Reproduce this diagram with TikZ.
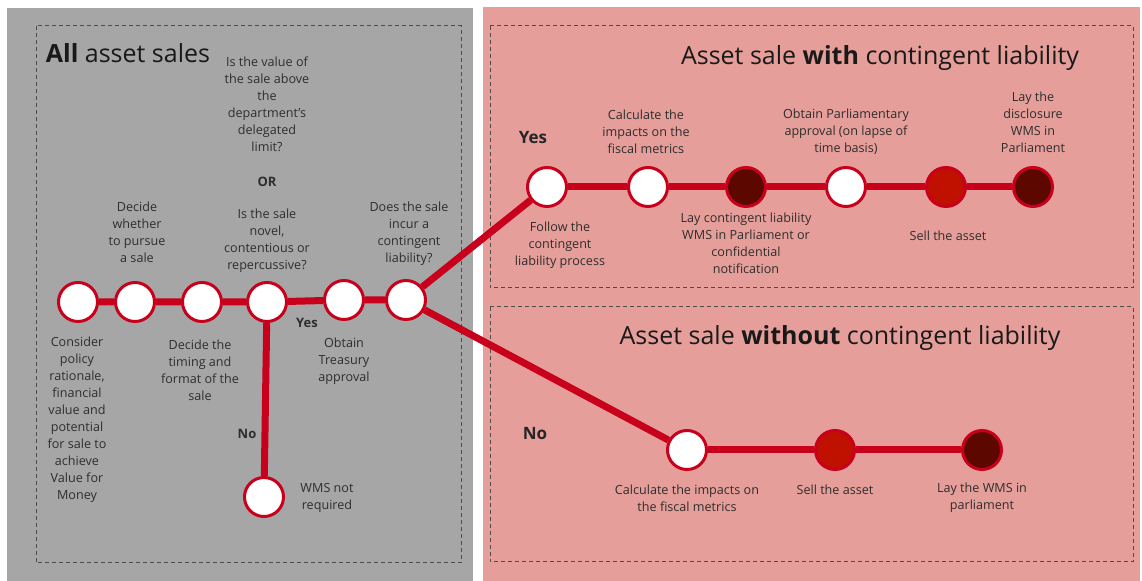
\documentclass[tikz,border=0pt]{standalone}
\usepackage{fontspec}
\setmainfont{Open Sans}
\usepackage{tikz}
\usetikzlibrary{positioning,calc}

\definecolor{panelgrey}{HTML}{A6A6A6}
\definecolor{panelpink}{HTML}{E59E99}
\definecolor{railred}{HTML}{C8001C}
\definecolor{midred}{HTML}{C01000}
\definecolor{darkred}{HTML}{5C0800}
\definecolor{txtgrey}{HTML}{2E2E2E}

\begin{document}
\begin{tikzpicture}
    [
        x=0.5pt, y=-0.5pt,
        stop/.style={circle, draw=railred, line width=1.5pt, fill=white, minimum size=19.5pt, inner sep=0},
        midstop/.style={stop, fill=midred},
        darkstop/.style={stop, fill=darkred},
        rail/.style={draw=railred, line width=3.5pt},
        txt/.style={font=\fontsize{6.3}{8.5}\selectfont, align=center, text=txtgrey, inner sep=0},
        yesno/.style={font=\fontsize{6.5}{8}\selectfont\bfseries, text=txtgrey, inner sep=0},
        bigyesno/.style={font=\fontsize{8.5}{10}\selectfont\bfseries, text=black!85, inner sep=0},
        title/.style={font=\fontsize{12.5}{14}\selectfont, text=black!90, inner sep=0},
        frame/.style={draw=black!70, line width=0.5pt, dash pattern=on 2pt off 1.5pt}
    ]

    \useasboundingbox (0,0) rectangle (1142,581);

    % panels
    \fill[panelgrey] (7,8) rectangle (473,581);
    \fill[panelpink] (483,7) rectangle (1140,581);
    \draw[frame] (36,26) rectangle (461,563);
    \draw[frame] (490,26) rectangle (1133,288);
    \draw[frame] (490,307) rectangle (1133,562);

    % titles
    \node[title] (tall) at (128,53) {\textbf{All} asset sales};
    \node[title] (twith) at (880,58) {Asset sale \textbf{with} contingent liability};
    \node[title] (twithout) at (840,338) {Asset sale \textbf{without} contingent liability};

    % all asset sales
    \node[stop] (consider) at (78,302) {};
    \node[stop] (pursue) at (135,302) {};
    \node[stop] (timing) at (202,302) {};
    \node[stop] (novel) at (267,302) {};
    \node[stop] (treasury) at (344,300) {};
    \node[stop] (incur) at (406,300) {};
    \node[stop] (notreq) at (264,497) {};

    \draw[rail] (consider) -- (pursue) -- (timing) -- (novel) -- (treasury) -- (incur);
    \draw[rail] (novel) -- (notreq);

    \node[txt] (qvalue) at (267,104) {Is the value of\\the sale above\\the\\department’s\\delegated\\limit?};
    \node[txt, font=\fontsize{6.5}{8}\selectfont\bfseries] (qor) at (267,182) {OR};
    \node[txt] (qnovel) at (267,241) {Is the sale\\novel,\\contentious or\\repercussive?};
    \node[txt] (lpursue) at (137,232) {Decide\\whether\\to pursue\\a sale};
    \node[txt] (lincur) at (409,234) {Does the sale\\incur a\\contingent\\liability?};
    \node[txt] (lconsider) at (77,420) {Consider\\policy\\rationale,\\financial\\value and\\potential\\for sale to\\achieve\\Value for\\Money};
    \node[txt] (ltiming) at (200,370) {Decide the\\timing and\\format of the\\sale};
    \node[txt] (ltreasury) at (344,361) {Obtain\\Treasury\\approval};
    \node[txt] (lnotreq) at (327,498) {WMS not\\required};
    \node[yesno] (yes1) at (307,323) {Yes};
    \node[yesno] (no1) at (247,434) {No};

    % with contingent liability
    \node[stop] (follow) at (547,187) {};
    \node[stop] (calca) at (648,187) {};
    \node[darkstop] (laycl) at (746,187) {};
    \node[stop] (parl) at (846,187) {};
    \node[midstop] (sella) at (946,187) {};
    \node[darkstop] (disclose) at (1033,187) {};

    \draw[rail] (incur) -- (follow);
    \draw[rail] (follow) -- (calca) -- (laycl) -- (parl) -- (sella) -- (disclose);

    \node[bigyesno] (yes2) at (533,138) {Yes};
    \node[txt] (lcalca) at (646,132) {Calculate the\\impacts on the\\fiscal metrics};
    \node[txt] (lparl) at (846,132) {Obtain Parliamentary\\approval (on lapse of\\time basis)};
    \node[txt] (ldisclose) at (1033,122) {Lay the\\disclosure\\WMS in\\Parliament};
    \node[txt] (lfollow) at (560,245) {Follow the\\contingent\\liability process};
    \node[txt] (llaycl) at (746,243) {Lay contingent liability\\WMS in Parliament or\\confidential\\notification};
    \node[txt] (lsella) at (948,236) {Sell the asset};

    % without contingent liability
    \node[stop] (calcb) at (687,450) {};
    \node[midstop] (sellb) at (835,450) {};
    \node[darkstop] (layb) at (982,450) {};

    \draw[rail] (incur) -- (calcb);
    \draw[rail] (calcb) -- (sellb) -- (layb);

    \node[bigyesno] (no2) at (535,434) {No};
    \node[txt] (lcalcb) at (687,498) {Calculate the impacts on\\the fiscal metrics};
    \node[txt] (lsellb) at (835,490) {Sell the asset};
    \node[txt] (llayb) at (982,498) {Lay the WMS in\\parliament};
\end{tikzpicture}
\end{document}
